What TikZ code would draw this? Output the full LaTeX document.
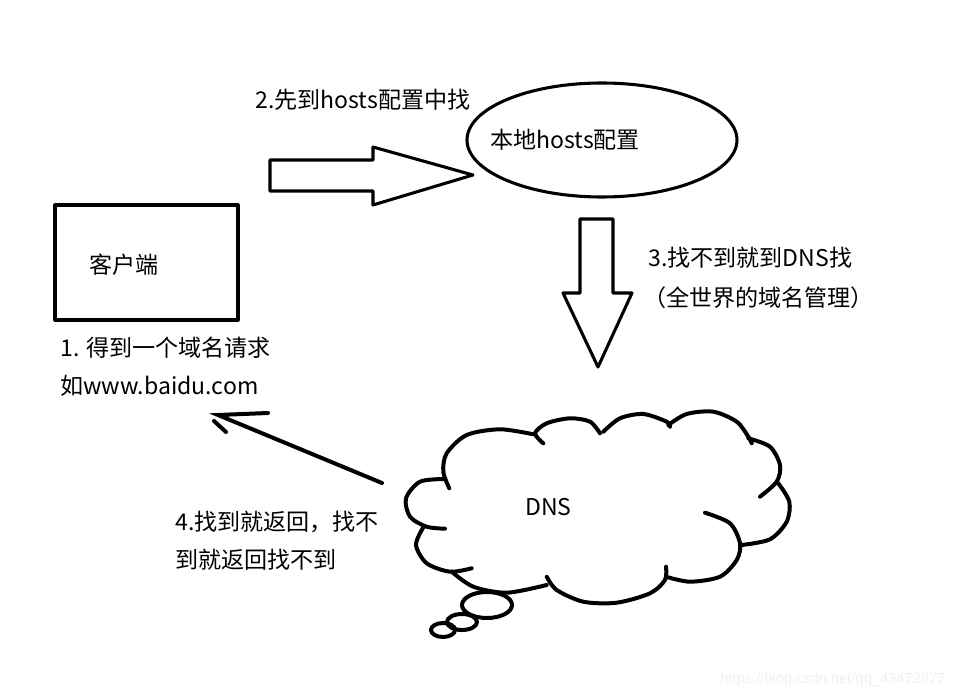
\documentclass[tikz,border=0pt]{standalone}
\usepackage{fontspec}
\setmainfont{Noto Sans CJK SC}
\newfontfamily\wmfont{Liberation Sans}
\begin{document}
\begin{tikzpicture}[x=0.75pt,y=-0.75pt,
  lbl/.style={anchor=west,inner sep=0pt,font=\fontsize{17.3pt}{19pt}\selectfont},
  thick3/.style={line width=2.3pt,line join=round},
  cloudline/.style={line width=3pt,line cap=round},
  ]
\useasboundingbox (0,0) rectangle (972,698);
% client box
\draw[thick3] (55,205) rectangle (238,320);
\node[lbl] (client) at (89,265) {客户端};
\node[lbl] (t1a) at (60,348) {1. 得到一个域名请求};
\node[lbl] (t1b) at (60,386) {如www.baidu.com};
% hosts
\node[lbl] (t2) at (255,100) {2.先到hosts配置中找};
\draw[thick3] (602,140) ellipse [x radius=135, y radius=57];
\node[lbl] (hosts) at (490,140) {本地hosts配置};
% right block arrow
\draw[thick3] (270,160) -- (373,160) -- (373,147) -- (473,175) -- (373,205) -- (373,191) -- (270,191) -- cycle;
% down block arrow
\draw[thick3] (580,219) -- (613,219) -- (613,293) -- (632,293) -- (598,367) -- (563,293) -- (580,293) -- cycle;
\node[lbl] (t3a) at (648,258) {3.找不到就到DNS找};
\node[lbl] (t3b) at (643,298) {（全世界的域名管理）};
% cloud
\begin{scope}[cloudline]
\draw plot[smooth] coordinates {(533.3,434.3) (500,429.3) (466.7,435) (446.7,453.3) (443.3,471.7) (449.3,488.3)};
\draw plot[smooth] coordinates {(445,479) (420,481.7) (406,498.3) (410,516.7) (426.7,526.7) (445,528.7)};
\draw plot[smooth] coordinates {(423.3,527.3) (416,545) (426.7,563.3) (450,571.7) (471.7,568.3)};
\draw plot[smooth] coordinates {(451.7,571.7) (473.3,586.7) (506.7,592.7) (546.7,585)};
\draw plot[smooth] coordinates {(546.7,576.7) (556.7,590) (583.3,601.7) (616.7,602.7) (650,593.3) (665,580) (666,566.7)};
\draw plot[smooth] coordinates {(666,576.7) (690,581.7) (720,576.7) (736.7,560) (740,543.3) (730,523.3) (705,512.7)};
\draw plot[smooth] coordinates {(741.7,545) (770,539.3) (786.7,521.7) (789.3,501.7) (778.3,483.3)};
\draw plot[smooth] coordinates {(748.3,438.3) (770,446.7) (780,465) (776.7,481.7) (760,496.7)};
\draw plot[smooth] coordinates {(668.3,425) (686.7,414) (713.3,411.7) (736.7,421.7) (748.3,436.7) (751.7,443.3)};
\draw plot[smooth] coordinates {(603.3,431.7) (620,418.3) (643.3,414) (666.7,421.7) (670,426.7)};
\draw plot[smooth] coordinates {(600,433.3) (590,421.7) (570,418.3) (546.7,423.3) (535,433.3) (543.3,443.3)};
\draw (487,605) ellipse [x radius=25, y radius=13];
\draw (462,622) ellipse [x radius=15, y radius=8];
\draw (443,630) ellipse [x radius=12, y radius=7];
\end{scope}
\node[lbl] (dns) at (525,507) {DNS};
% return arrow
\coordinate (rs) at (382,483);
\coordinate (re) at (218,415);
\coordinate (h1) at (268,413);
\coordinate (h2a) at (214,421);
\coordinate (h2b) at (226,432);
\draw[cloudline] (rs) -- (re) -- (h1);
\draw[cloudline] (h2a) -- (h2b);
\node[lbl] (t4a) at (175,522) {4.找到就返回，找不};
\node[lbl] (t4b) at (175,560) {到就返回找不到};
% watermark
\node[anchor=west,inner sep=0pt,text=black!6,font=\wmfont\fontsize{11pt}{13pt}\selectfont] (wm) at (720,680) {https://blog.csdn.net/qq\_43472877};
\end{tikzpicture}
\end{document}
